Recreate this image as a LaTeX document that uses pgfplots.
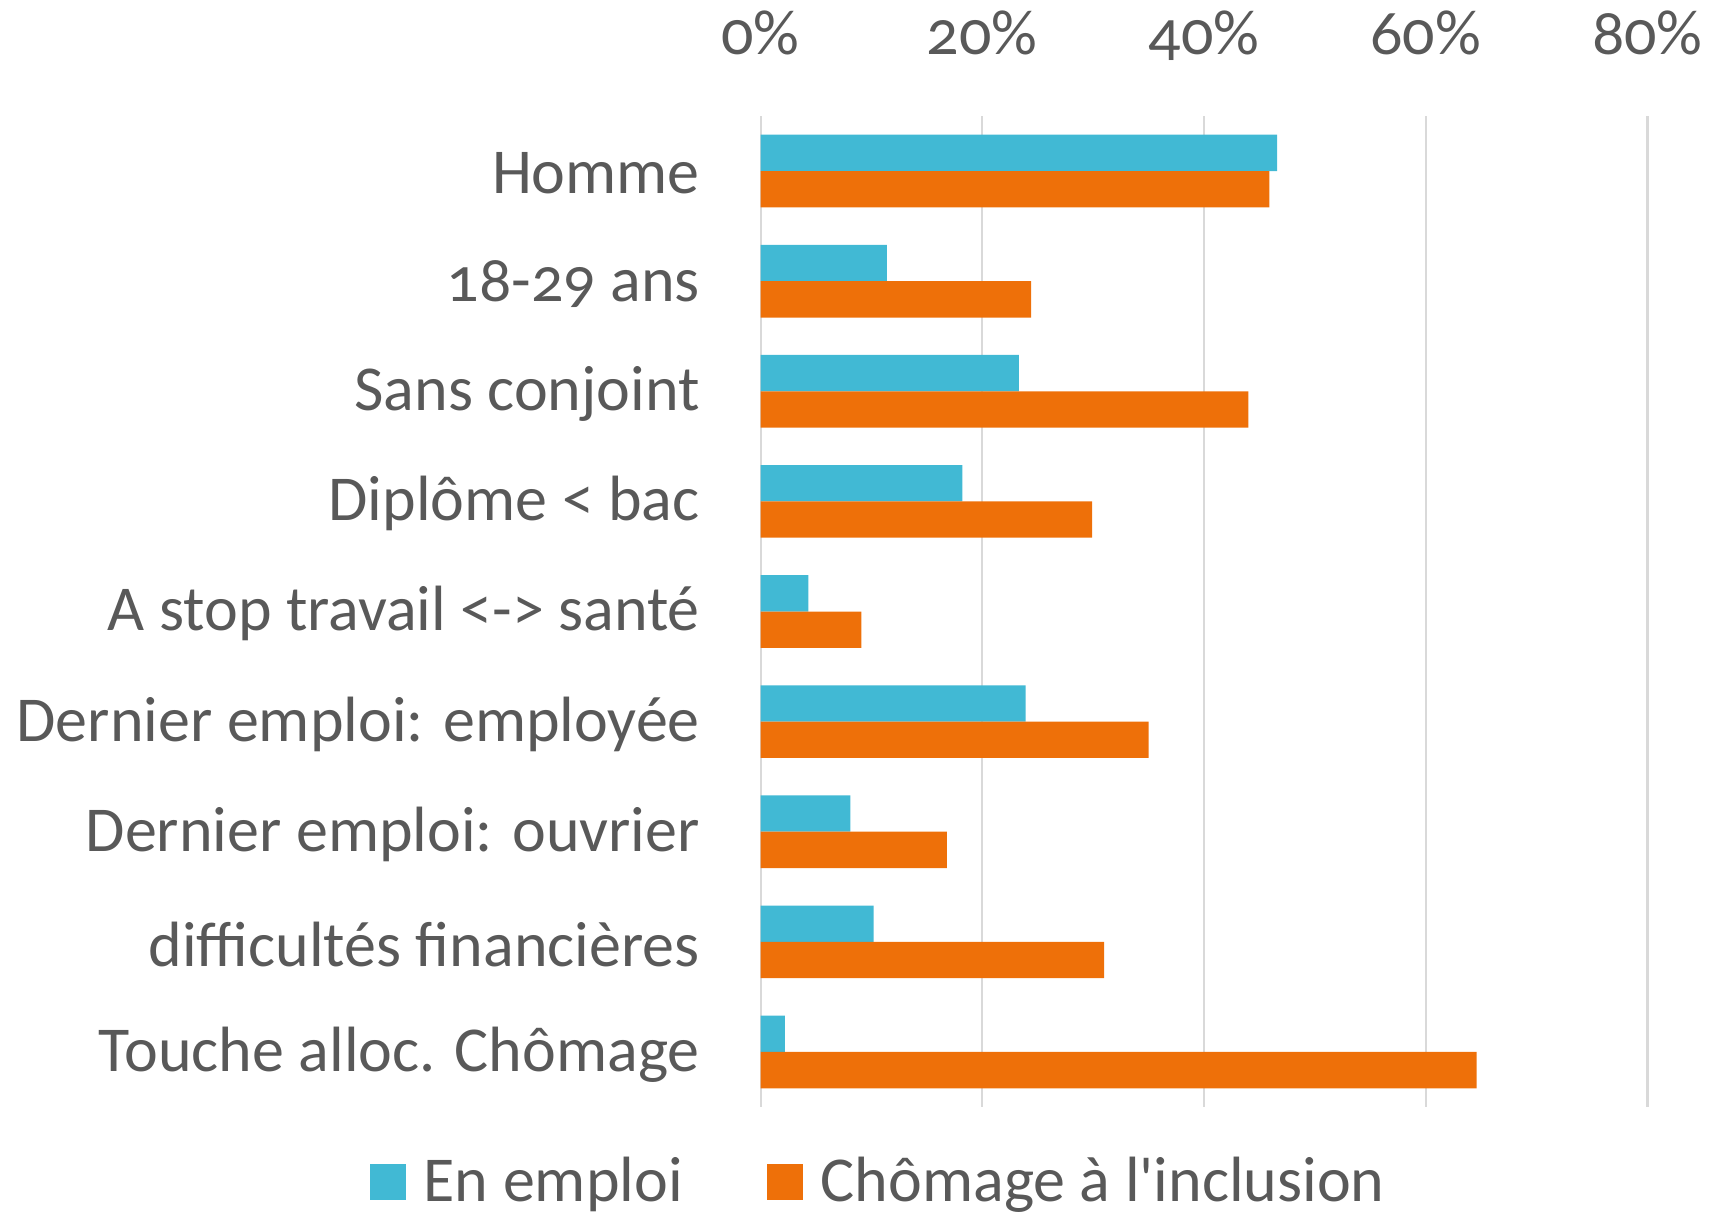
\documentclass[border=0pt]{standalone}
\usepackage{pgfplots}
\pgfplotsset{compat=1.18}
\usepackage{fontspec}
\setmainfont{Carlito}[Numbers=OldStyle]
\definecolor{cteal}{HTML}{41B9D4}
\definecolor{corange}{HTML}{EE7009}
\definecolor{ctext}{HTML}{595959}
\definecolor{cgrid}{HTML}{D9D9D9}
\newcommand{\lblfont}{\fontsize{16}{19}\selectfont}
\begin{document}
\begin{tikzpicture}
\begin{axis}[
  width=221.7pt, height=247.75pt, scale only axis,
  xbar=0pt, bar width=0.33,
  xmin=0, xmax=80, ymin=-0.5, ymax=8.5, y dir=reverse,
  xtick={0,20,40,60,80},
  xticklabel pos=upper,
  xticklabel={\pgfmathprintnumber{\tick}\%},
  ytick={0,...,8},
  yticklabels={Homme, 18-29 ans, Sans conjoint, Diplôme < bac,
    A stop travail <-> santé, Dernier emploi: employée,
    Dernier emploi: ouvrier, difficultés financières,
    Touche alloc. Chômage},
  /pgf/number format/assume math mode=true,
  major tick length=0pt,
  axis line style={draw=none},
  xmajorgrids, grid style={cgrid, line width=0.55pt},
  xticklabel style={font=\lblfont, text=ctext, anchor=base, inner sep=0pt, yshift=15.5pt},
  yticklabel style={font=\lblfont, text=ctext, anchor=east, inner sep=0pt, xshift=-15pt, yshift=-0.6pt},
  legend columns=2,
  legend style={draw=none, font=\lblfont, text=ctext, at={(0.136,-0.0757)}, anchor=center,
    /tikz/every even column/.append style={column sep=19pt}},
  legend image code/.code={\fill[#1] (0pt,-4.5pt) rectangle (9pt,4.5pt); \path (11.5pt,0pt);},
]
\addplot[fill=cteal, draw=none] coordinates {
  (46.6,0) (11.4,1) (23.3,2) (18.2,3) (4.3,4) (23.9,5) (8.1,6) (10.2,7) (2.2,8)};
\addplot[fill=corange, draw=none] coordinates {
  (45.9,0) (24.4,1) (44.0,2) (29.9,3) (9.1,4) (35.0,5) (16.8,6) (31.0,7) (64.6,8)};
\legend{En emploi, Chômage à l\textquotesingle inclusion}
\end{axis}
\pgfresetboundingbox
\path[use as bounding box] (current axis.south west) ++(-190.15pt,-27.25pt)
  rectangle ([shift={(22.15pt,29pt)}]current axis.north east);
\end{tikzpicture}
\end{document}
